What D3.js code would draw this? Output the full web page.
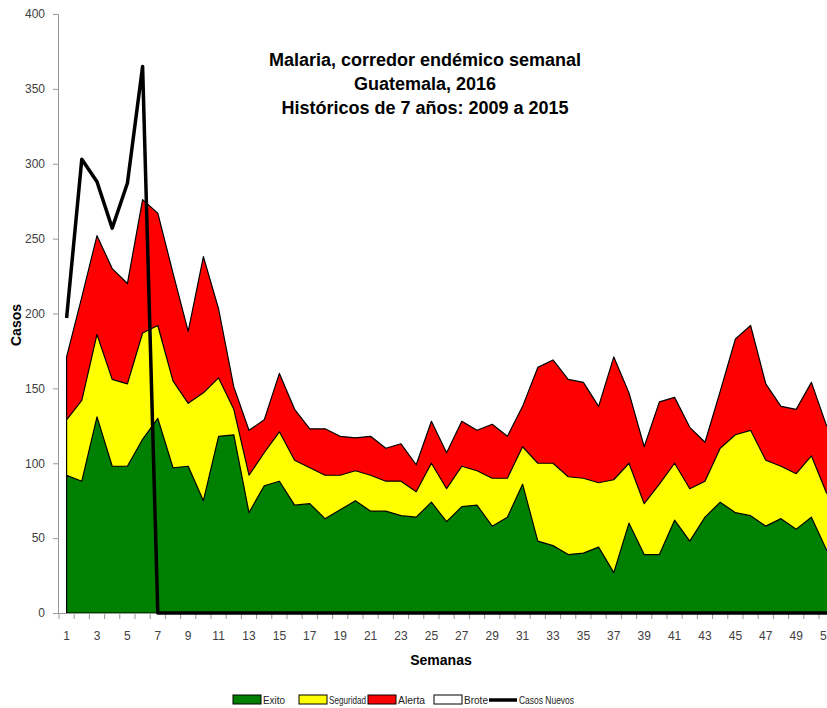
<!DOCTYPE html>
<html>
<head>
<meta charset="utf-8">
<script src="https://cdn.jsdelivr.net/npm/d3@7"></script>
<style>
  body { margin: 0; background: #fff; }
  svg { display: block; font-family: "Liberation Sans", Arial, sans-serif; }
</style>
</head>
<body>
<div id="chart"></div>
<script>
// semanas epidemiologicas 1..52
var semanas = [1,2,3,4,5,6,7,8,9,10,11,12,13,14,15,16,17,18,19,20,21,22,23,24,25,26,
  27,28,29,30,31,32,33,34,35,36,37,38,39,40,41,42,43,44,45,46,47,48,49,50,51,52];

// limites del corredor (valores acumulados)
var exito = [92,88,131,98,98,116,130,97,98,75,118,119,67,85,88,72,73,63,69,75,68,68,65,64,74,61,
  71,72,58,64,86,48,45,39,40,44,27,60,39,39,62,48,64,74,67,65,58,63,56,64,42,45];
var seguridad = [129,142,186,156,153,187,192,155,140,147,157,136,92,107,121,102,97,92,92,95,92,88,88,81,100,83,
  98,95,90,90,111,100,100,91,90,87,89,100,73,86,100,83,88,110,119,122,102,98,93,105,80,85];
var alerta = [171,211,252,230,220,276,267,227,188,238,203,151,122,129,160,136,123,123,118,117,118,110,113,99,128,107,
  128,122,126,118,138,164,169,156,154,138,171,147,111,141,144,124,114,148,183,192,153,138,136,154,125,130];

var casosNuevos = [197,303,288,257,287,365,0,0,0,0,0,0,0,0,0,0,0,0,0,0,0,0,0,0,0,0,
  0,0,0,0,0,0,0,0,0,0,0,0,0,0,0,0,0,0,0,0,0,0,0,0,0,0];

var yTicks = [0,50,100,150,200,250,300,350,400];

var titulo = ['Malaria, corredor endémico semanal', 'Guatemala, 2016', 'Históricos de 7 años: 2009 a 2015'];

var leyenda = ['Exito', 'Seguridad', 'Alerta', 'Brote', 'Casos Nuevos'];
var leyendaColor = ['#008000', '#ffff00', '#ff0000', '#ffffff', '#000'];

var W = 827, H = 708;
var svg = d3.select('#chart').append('svg')
  .attr('width', W)
  .attr('height', H);

var xb = d3.scaleBand().domain(semanas).range([59, 849.4]).padding(0);
var bw = xb.bandwidth();
var xc = function(w) { return xb(w) + bw / 2; };
var y = d3.scaleLinear().domain([0, 400]).range([613, 14]);

var layers = [
  { hi: exito, fill: '#008000' },
  { hi: seguridad, fill: '#ffff00' },
  { hi: alerta, fill: '#ff0000' }
];

// draw top layer first so the lower ones sit on top of its outline
layers.slice().reverse().forEach(function(l) {
  var area = d3.area()
    .x(function(d, i) { return xc(semanas[i]); })
    .y0(function(d, i) { return y(0); })
    .y1(function(d) { return y(d); });
  svg.append('path')
    .datum(l.hi)
    .attr('d', area)
    .style('fill', l.fill)
    .style('stroke', '#000')
    .style('stroke-width', 1.2)
    .style('stroke-linejoin', 'round');
});

// y axis
var yAxis = d3.axisLeft(y).tickValues(yTicks).tickSize(5).tickPadding(8);
var gy = svg.append('g').attr('transform', 'translate(58,0)').call(yAxis);
gy.select('.domain').attr('stroke', '#999');
gy.selectAll('.tick line').attr('stroke', '#999');
gy.selectAll('.tick text').style('font-size', '12px').style('fill', '#404040');

// x axis ticks (between categories)
svg.append('line')
  .attr('x1', 58).attr('x2', W).attr('y1', 613.5).attr('y2', 613.5)
  .attr('stroke', '#999');
var edges = semanas.map(function(w) { return xb(w); });
svg.selectAll('.xtick').data(edges).enter().append('line')
  .attr('class', 'xtick')
  .attr('x1', function(d) { return d; }).attr('x2', function(d) { return d; })
  .attr('y1', 613).attr('y2', 619)
  .attr('stroke', '#999');
svg.selectAll('.xlab').data(semanas.filter(function(w) { return w % 2 === 1; })).enter().append('text')
  .attr('class', 'xlab')
  .attr('x', function(d) { return xc(d); })
  .attr('y', 640)
  .attr('text-anchor', 'middle')
  .style('font-size', '12px')
  .style('fill', '#404040')
  .text(function(d) { return d; });

// casos nuevos
var line = d3.line()
  .x(function(d, i) { return xc(semanas[i]); })
  .y(function(d) { return y(d); });
svg.append('path')
  .datum(casosNuevos)
  .attr('d', line)
  .style('fill', 'none')
  .style('stroke', '#000')
  .style('stroke-width', 3.5)
  .style('stroke-linejoin', 'round');

// titles
svg.selectAll('.titulo').data(titulo).enter().append('text')
  .attr('x', 425)
  .attr('y', function(d, i) { return 66 + i * 24; })
  .attr('text-anchor', 'middle')
  .style('font-size', '18px')
  .style('font-weight', 'bold')
  .text(function(d) { return d; });

svg.append('text')
  .attr('transform', 'translate(21,325) rotate(-90)')
  .attr('text-anchor', 'middle')
  .style('font-size', '14px')
  .style('font-weight', 'bold')
  .text('Casos');

svg.append('text')
  .attr('x', 441).attr('y', 665)
  .attr('text-anchor', 'middle')
  .style('font-size', '14px')
  .style('font-weight', 'bold')
  .text('Semanas');

// legend (narrow text like the original Calibri)
var legX = [233, 299, 368, 434, 489];
var legW = [22, 37, 27, 24, 55];
leyenda.forEach(function(name, i) {
  var g = svg.append('g').attr('transform', 'translate(' + legX[i] + ',700)');
  if (i < 4) {
    g.append('rect')
      .attr('x', 0).attr('y', -5).attr('width', 28).attr('height', 9)
      .style('fill', leyendaColor[i]).style('stroke', '#000').style('stroke-width', 1);
  } else {
    g.append('line')
      .attr('x1', 0).attr('x2', 28).attr('y1', 0).attr('y2', 0)
      .style('stroke', leyendaColor[i]).style('stroke-width', 3.5);
  }
  g.append('text')
    .attr('x', 30).attr('y', 4)
    .attr('textLength', legW[i])
    .attr('lengthAdjust', 'spacingAndGlyphs')
    .style('font-size', '11.5px')
    .style('fill', '#222')
    .text(name);
});
</script>
</body>
</html>
